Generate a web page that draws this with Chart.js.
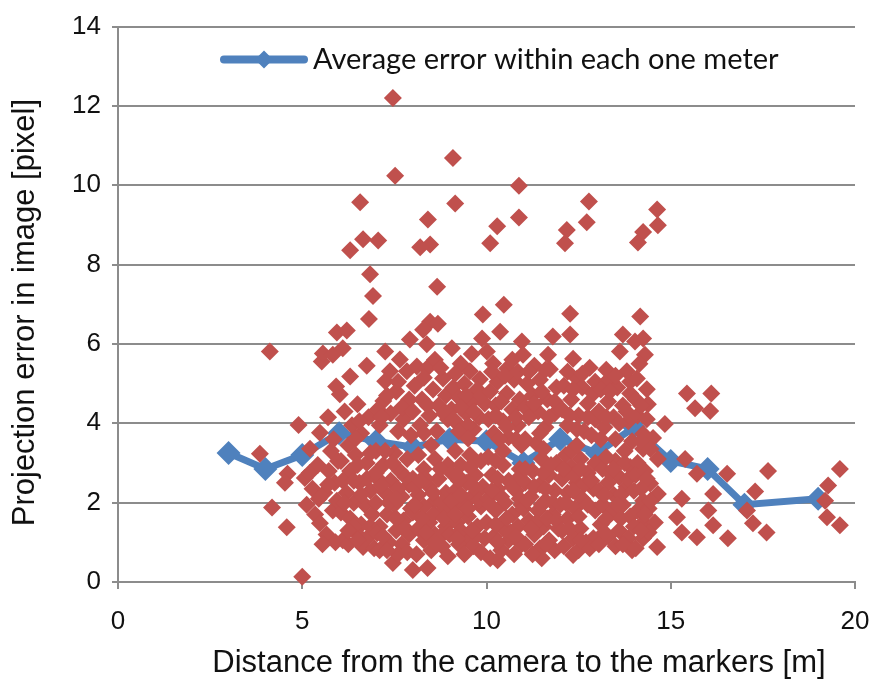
<!DOCTYPE html>
<html lang="en">
  <head>
    <meta charset="UTF-8" />
    <title>Projection error vs. distance</title>
    <script src="https://cdn.jsdelivr.net/npm/chart.js@4.4.1/dist/chart.umd.min.js"></script>
    <style>
      body { margin: 0; background: #fff; }
    </style>
  </head>
  <body>
    <canvas id="chart" width="879" height="683"></canvas>
    <script>
      // Mean projection error for each one-metre distance bin
      const binDistance = [3, 4, 5, 6, 7, 8, 9, 10, 11, 12, 13, 14, 15, 16, 17, 19];
      const binMeanError = [3.25, 2.85, 3.2, 3.75, 3.55, 3.4, 3.6, 3.55, 3.0, 3.6, 3.25, 3.9, 3.05, 2.85, 1.95, 2.1];

      // Individual marker measurements [distance m, error px], grouped by metre
      const samplesUnder5 = [
        [3.85, 3.23], [4.12, 5.81], [4.18, 1.88], [4.58, 1.38], [4.6, 2.73], [4.53, 2.5], [4.9, 3.96]
      ];
      const samples5 = [
        [5.0, 0.13], [5.07, 2.62], [5.12, 1.95], [5.21, 3.36], [5.28, 2.35], [5.35, 1.7], [5.42, 2.95],
        [5.48, 3.76], [5.48, 1.48], [5.53, 5.56], [5.56, 5.76], [5.6, 2.25], [5.66, 1.2], [5.72, 2.8],
        [5.78, 3.3], [5.83, 5.73], [5.83, 1.8], [5.88, 2.5], [5.92, 4.93], [5.94, 6.29], [5.94, 2.05],
        [5.9, 1.0], [5.97, 3.05], [5.7, 4.15], [5.55, 0.95], [5.2, 2.75], [5.45, 2.1], [5.7, 2.45],
        [5.85, 3.6]
      ];
      const samples6 = [
        [6.57, 9.57], [6.65, 8.64], [6.3, 8.36], [6.84, 7.76], [6.92, 7.21], [6.81, 6.63], [6.21, 6.34],
        [6.1, 5.89], [6.3, 5.18], [6.75, 5.45], [6.02, 4.73], [6.5, 4.48], [6.15, 4.3], [6.8, 4.15],
        [6.35, 3.95], [6.6, 3.75], [6.25, 3.45], [6.45, 3.2], [6.05, 3.05],
        [6.75, 3.0], [6.3, 2.8], [6.95, 2.7], [6.1, 2.55], [6.55, 2.5], [6.85, 2.3], [6.2, 2.25],
        [6.4, 2.0], [6.7, 1.95], [6.05, 1.75], [6.9, 1.7], [6.3, 1.6], [6.6, 1.45], [6.1, 1.05],
        [6.45, 1.25], [6.8, 1.15], [6.65, 0.88], [6.25, 0.95], [6.95, 0.85], [6.5, 2.95], [6.15, 2.0],
        [6.75, 2.6], [6.4, 1.4], [6.55, 4.05], [6.85, 3.25], [6.4, 2.55], [6.6, 2.2],
        [6.25, 1.3], [6.85, 1.4], [6.5, 1.05], [6.45, 3.62]
      ];
      const samples7 = [
        [7.46, 12.2], [7.52, 10.24], [7.06, 8.61], [7.25, 5.81], [7.92, 6.11], [7.65, 5.61], [7.38, 5.31],
        [7.84, 5.31], [7.25, 5.06], [7.2, 4.56], [7.55, 4.8], [7.9, 4.6], [7.05, 4.35], [7.4, 4.25],
        [7.75, 4.1], [7.1, 3.95], [7.6, 3.8], [7.95, 3.7], [7.0, 3.3], [7.5, 3.25],
        [7.85, 3.1], [7.2, 2.95], [7.65, 2.8], [7.05, 2.6], [7.4, 2.55], [7.9, 2.45], [7.25, 2.25],
        [7.7, 2.15], [7.0, 2.0], [7.5, 1.95], [7.95, 1.85], [7.3, 1.7], [7.75, 1.55], [7.1, 1.4],
        [7.55, 1.3], [7.9, 1.2], [7.03, 1.23], [7.35, 1.0], [7.7, 0.95], [7.1, 0.8], [7.46, 0.48],
        [7.6, 0.7], [7.85, 0.75], [7.45, 3.0], [7.8, 2.65], [7.15, 2.45], [7.6, 2.35], [7.35, 2.0],
        [7.55, 1.6], [7.2, 1.15], [7.3, 4.7], [7.7, 4.4], [7.15, 4.15],
        [7.25, 3.3], [7.0, 2.75], [7.55, 2.1], [7.8, 1.35], [7.3, 0.8], [7.6, 5.05]
      ];
      const samples8 = [
        [8.41, 9.14], [8.47, 8.51], [8.2, 8.44], [8.66, 7.44], [8.47, 6.56], [8.68, 6.51], [8.28, 6.36],
        [8.38, 5.99], [8.11, 5.43], [8.38, 5.38], [8.82, 5.13], [8.6, 5.6], [8.05, 4.95], [8.55, 4.85],
        [8.9, 4.7], [8.25, 4.6], [8.7, 4.45], [8.0, 4.3], [8.45, 4.2], [8.95, 4.1], [8.2, 3.95],
        [8.65, 3.8], [8.15, 3.2], [8.6, 3.1], [8.95, 2.95],
        [8.3, 2.85], [8.0, 2.6], [8.7, 2.6], [8.45, 2.4], [8.15, 2.2], [8.9, 2.25], [8.6, 2.05],
        [8.3, 1.9], [8.0, 1.75], [8.75, 1.75], [8.45, 1.5], [8.15, 1.35], [8.9, 1.4], [8.6, 1.2],
        [8.3, 1.05], [8.0, 0.3], [8.4, 0.35], [8.8, 0.9], [8.5, 0.8], [8.1, 0.7], [8.95, 0.65],
        [8.35, 2.6], [8.8, 2.0], [8.05, 2.4], [8.55, 1.7], [8.25, 1.6], [8.75, 1.15], [8.3, 5.15],
        [8.75, 5.4], [8.4, 4.45], [8.85, 4.25], [8.3, 3.75], [8.75, 2.85], [8.2, 2.55],
        [8.55, 2.25], [8.05, 1.95], [8.85, 1.6], [8.35, 1.25], [8.65, 0.95], [8.5, 3.45]
      ];
      const samples9 = [
        [9.09, 10.69], [9.15, 9.54], [9.9, 6.74], [9.06, 5.89], [9.88, 6.14], [9.55, 5.31], [9.82, 5.11],
        [9.3, 5.5], [9.6, 5.75], [9.1, 4.9], [9.4, 5.0], [9.75, 4.85], [9.25, 4.65], [9.6, 4.55],
        [9.95, 4.5], [9.05, 4.35], [9.45, 4.25], [9.8, 4.15], [9.2, 4.0], [9.65, 3.85],
        [9.15, 3.3], [9.55, 3.2], [9.85, 3.05], [9.3, 2.95], [9.05, 2.75],
        [9.7, 2.7], [9.45, 2.5], [9.9, 2.4], [9.15, 2.3], [9.6, 2.15], [9.35, 1.95], [9.05, 1.85],
        [9.85, 1.9], [9.5, 1.65], [9.2, 1.5], [9.75, 1.4], [9.0, 1.2], [9.45, 1.15], [9.95, 1.1],
        [9.25, 0.95], [9.65, 0.9], [9.4, 0.7], [9.85, 0.75], [9.55, 2.9], [9.25, 2.55], [9.75, 2.3],
        [9.05, 2.05], [9.5, 1.85], [9.3, 1.3], [9.7, 1.15], [9.15, 5.25], [9.45, 4.7], [9.85, 4.7],
        [9.3, 4.4], [9.65, 4.3], [9.1, 4.1], [9.5, 3.95], [9.25, 3.8],
        [9.2, 2.7], [9.6, 2.45], [9.3, 2.2], [9.8, 2.05], [9.15, 1.7], [9.6, 1.3], [9.2, 1.1],
        [9.5, 3.62]
      ];
      const samples10 = [
        [10.88, 9.99], [10.88, 9.19], [10.29, 8.97], [10.1, 8.54], [10.47, 6.99], [10.37, 6.31],
        [10.96, 6.06], [10.01, 5.81], [10.99, 5.73], [10.18, 5.51], [10.56, 5.38], [10.7, 5.6],
        [10.3, 5.05], [10.75, 5.1], [10.1, 4.8], [10.55, 4.75], [10.9, 4.6], [10.25, 4.45], [10.7, 4.35],
        [10.05, 4.1], [10.45, 4.05], [10.85, 3.95], [10.2, 3.75], [10.6, 3.65], [10.95, 3.45],
        [10.05, 3.15], [10.45, 2.95], [10.9, 2.85], [10.15, 2.7],
        [10.6, 2.55], [10.3, 2.35], [10.8, 2.3], [10.05, 2.1], [10.5, 2.0], [10.95, 1.95], [10.25, 1.8],
        [10.7, 1.7], [10.0, 1.5], [10.45, 1.35], [10.85, 1.4], [10.2, 1.15], [10.6, 1.05], [10.95, 0.95],
        [10.3, 0.55], [10.4, 0.8], [10.75, 0.7], [10.1, 0.6], [10.25, 3.05], [10.85, 2.6], [10.4, 2.15],
        [10.1, 1.95], [10.65, 1.25], [10.25, 1.45], [10.15, 5.3], [10.5, 5.2], [10.85, 5.3],
        [10.4, 4.55], [10.8, 4.15], [10.25, 4.2], [10.55, 3.9], [10.35, 3.6], [10.8, 3.6],
        [10.3, 2.6], [10.7, 2.4], [10.15, 2.3], [10.9, 2.1], [10.55, 1.6], [10.3, 1.0], [10.8, 1.15],
        [10.45, 3.3]
      ];
      const samples11 = [
        [11.8, 6.19], [11.67, 5.73], [11.72, 5.36], [11.3, 5.45], [11.1, 5.0], [11.45, 5.1], [11.9, 4.9],
        [11.25, 4.7], [11.65, 4.6], [11.05, 4.4], [11.4, 4.3], [11.85, 4.25], [11.15, 4.15], [11.6, 3.9],
        [11.35, 3.5], [11.5, 3.1], [11.9, 3.0], [11.25, 2.8],
        [11.7, 2.7], [11.05, 2.5], [11.45, 2.45], [11.85, 2.3], [11.2, 2.15], [11.6, 2.05], [11.0, 1.85],
        [11.4, 1.8], [11.8, 1.7], [11.15, 1.55], [11.55, 1.4], [11.95, 1.35], [11.3, 1.2], [11.7, 1.05],
        [11.05, 0.95], [11.45, 0.85], [11.5, 0.6], [11.85, 0.8], [11.25, 0.7], [11.55, 2.75], [11.3, 2.4],
        [11.8, 2.0], [11.35, 1.5], [11.65, 1.6], [11.15, 5.3], [11.6, 5.35], [11.5, 4.8], [11.85, 4.55],
        [11.3, 4.5], [11.7, 4.15], [11.45, 3.75], [11.05, 3.6], [11.75, 2.95],
        [11.05, 2.85], [11.6, 2.35], [11.1, 2.05], [11.5, 1.95], [11.9, 1.55], [11.2, 1.35], [11.6, 0.95],
        [11.55, 3.35]
      ];
      const samples12 = [
        [12.78, 9.59], [12.72, 9.07], [12.18, 8.87], [12.13, 8.54], [12.27, 6.76], [12.27, 6.24],
        [12.35, 5.63], [12.46, 5.13], [12.8, 5.4], [12.1, 4.95], [12.6, 4.9], [12.9, 4.75], [12.3, 4.6],
        [12.75, 4.5], [12.05, 4.35], [12.5, 4.2], [12.95, 4.1], [12.2, 3.95], [12.65, 3.8],
        [12.15, 3.2], [12.55, 3.1], [12.95, 3.0], [12.3, 2.9], [12.75, 2.75],
        [12.05, 2.6], [12.45, 2.5], [12.9, 2.35], [12.2, 2.25], [12.6, 2.1], [12.0, 1.95], [12.4, 1.85],
        [12.95, 1.8], [12.2, 1.6], [12.55, 1.35], [12.05, 1.3], [12.35, 1.1], [12.7, 1.0], [12.1, 0.9],
        [12.35, 0.68], [12.5, 0.8], [12.9, 1.1], [12.35, 2.7], [12.65, 2.45], [12.15, 2.0], [12.5, 1.65],
        [12.2, 5.3], [12.6, 5.25], [12.95, 5.05], [12.35, 4.85], [12.75, 4.15], [12.25, 4.2],
        [12.45, 3.85], [12.85, 3.7], [12.3, 3.3], [12.1, 2.85], [12.55, 2.85], [12.85, 2.55],
        [12.35, 2.3], [12.75, 1.95], [12.25, 1.35], [12.8, 0.85], [12.55, 1.05], [12.45, 3.45]
      ];
      const samples13 = [
        [13.7, 6.24], [13.62, 5.81], [13.81, 5.31], [13.27, 5.06], [13.1, 4.85], [13.55, 4.9], [13.9, 4.75],
        [13.3, 4.55], [13.7, 4.45], [13.05, 4.3], [13.45, 4.15], [13.85, 4.05], [13.2, 3.9],
        [13.95, 3.55], [13.75, 3.3], [13.5, 3.05], [13.15, 2.85], [13.9, 2.9],
        [13.6, 2.65], [13.3, 2.5], [13.05, 2.3], [13.8, 2.4], [13.45, 2.2], [13.15, 1.95], [13.7, 1.95],
        [13.4, 1.75], [13.9, 1.65], [13.1, 1.45], [13.6, 1.3], [13.3, 1.15], [13.85, 1.1], [13.05, 0.95],
        [13.5, 0.9], [13.95, 0.8], [13.35, 2.75], [13.65, 2.2], [13.25, 1.6], [13.25, 5.35], [13.5, 5.2],
        [13.9, 5.05], [13.35, 4.8], [13.8, 4.3], [13.25, 4.15], [13.6, 4.0], [13.1, 3.6],
        [13.25, 3.15], [13.75, 3.0], [13.45, 2.85], [13.85, 2.6], [13.2, 2.2], [13.55, 1.95], [13.65, 1.6],
        [13.2, 1.25], [13.7, 0.95], [13.5, 3.6]
      ];
      const samples14 = [
        [14.11, 8.56], [14.25, 8.82], [14.63, 9.39], [14.65, 8.99], [14.17, 6.69], [14.25, 6.14],
        [14.3, 5.73], [14.03, 6.06], [14.08, 5.13], [14.35, 4.86], [14.38, 4.48], [14.25, 3.73],
        [14.52, 3.63], [14.84, 3.98], [14.25, 3.36], [14.65, 3.1], [14.44, 2.48], [14.25, 2.05],
        [14.65, 2.22], [14.25, 1.5], [14.57, 1.5], [14.25, 1.1], [14.63, 0.88], [14.05, 4.6], [14.1, 4.2],
        [14.1, 3.0], [14.05, 2.7], [14.3, 2.8], [14.0, 2.3], [14.1, 1.8], [14.4, 1.85],
        [14.0, 1.4], [14.05, 0.85], [14.4, 1.25], [14.15, 5.5], [14.2, 4.45], [14.35, 4.1], [14.2, 3.55],
        [14.45, 3.35], [14.35, 2.6], [14.2, 2.35], [14.45, 2.05], [14.3, 1.7], [14.2, 1.3]
      ];
      const samplesOver15 = [
        [15.44, 4.75], [15.66, 4.38], [15.39, 3.1], [15.71, 2.73], [15.3, 2.1], [15.17, 1.63], [15.3, 1.25],
        [15.71, 1.13], [16.1, 4.75], [16.07, 4.31], [16.53, 2.73], [16.15, 2.22], [16.02, 1.8], [16.15, 1.43],
        [16.55, 1.1], [17.64, 2.8], [17.29, 2.28], [17.07, 1.8], [17.23, 1.48], [17.6, 1.25], [19.59, 2.85],
        [19.27, 2.43], [19.19, 2.05], [19.24, 1.63], [19.59, 1.43]
      ];

      const xTicks = [0, 5, 10, 15, 20];
      const yTicks = [0, 2, 4, 6, 8, 10, 12, 14];
      const legendText = "Average error within each one meter";
      const xTitle = "Distance from the camera to the markers [m]";
      const yTitle = "Projection error in image [pixel]";

      const samples = [
        ...samplesUnder5, ...samples5, ...samples6, ...samples7, ...samples8, ...samples9,
        ...samples10, ...samples11, ...samples12, ...samples13, ...samples14, ...samplesOver15
      ];

      const blue = "#4F81BD";
      const red = "#C0504D";
      const grey = "#8c8c8c";
      const ink = "#111";
      const tickFont = { family: "'Liberation Sans', Arial, sans-serif", size: 26 };

      // legend inside the plot near the top, axis titles placed by hand
      const decorations = {
        id: "decorations",
        afterDraw(c) {
          const { ctx, chartArea } = c;
          const y = chartArea.top + 33;
          const x0 = chartArea.left + 106;
          ctx.save();
          ctx.strokeStyle = blue;
          ctx.lineWidth = 8;
          ctx.lineCap = "round";
          ctx.beginPath();
          ctx.moveTo(x0, y);
          ctx.lineTo(x0 + 80, y);
          ctx.stroke();
          ctx.fillStyle = blue;
          ctx.beginPath();
          ctx.moveTo(x0 + 40, y - 9);
          ctx.lineTo(x0 + 49, y);
          ctx.lineTo(x0 + 40, y + 9);
          ctx.lineTo(x0 + 31, y);
          ctx.closePath();
          ctx.fill();

          ctx.fillStyle = ink;
          ctx.font = "29px Lato, 'Open Sans', sans-serif";
          ctx.textBaseline = "middle";
          ctx.fillText(legendText, x0 + 89, y);

          ctx.font = "31px 'Liberation Sans', Arial, sans-serif";
          ctx.textAlign = "center";
          ctx.fillText(xTitle, chartArea.left + 401, chartArea.bottom + 81);
          ctx.translate(25, chartArea.top + 286);
          ctx.rotate(-Math.PI / 2);
          ctx.fillText(yTitle, 0, 0);
          ctx.restore();
        }
      };

      new Chart(document.getElementById("chart"), {
        type: "scatter",
        data: {
          datasets: [
            {
              label: "Samples",
              data: samples.map(([x, y]) => ({ x, y })),
              pointStyle: "rectRot",
              pointRadius: 9,
              backgroundColor: red,
              borderWidth: 0,
              clip: false
            },
            {
              label: legendText,
              data: binDistance.map((x, i) => ({ x, y: binMeanError[i] })),
              showLine: true,
              borderColor: blue,
              borderWidth: 7,
              pointStyle: "rectRot",
              pointRadius: 12,
              pointBackgroundColor: blue,
              pointBorderWidth: 0,
              clip: false
            }
          ]
        },
        options: {
          responsive: false,
          animation: false,
          devicePixelRatio: 1,
          layout: { padding: { top: 23, right: 24, left: 0, bottom: 0 } },
          plugins: { legend: { display: false }, tooltip: { enabled: false } },
          scales: {
            x: {
              type: "linear",
              min: 0,
              max: 20,
              afterBuildTicks: (s) => { s.ticks = xTicks.map((v) => ({ value: v })); },
              afterFit: (s) => { s.height = 101; s.paddingLeft = 0; s.paddingRight = 0; },
              grid: { drawOnChartArea: false, tickLength: 7, color: grey, lineWidth: 2 },
              border: { color: grey, width: 2 },
              ticks: { font: tickFont, color: ink, padding: 17, maxRotation: 0 }
            },
            y: {
              min: 0,
              max: 14,
              afterBuildTicks: (s) => { s.ticks = yTicks.map((v) => ({ value: v })); },
              afterFit: (s) => { s.width = 118; },
              grid: { color: grey, lineWidth: 2, tickLength: 6 },
              border: { color: grey, width: 2 },
              ticks: { font: tickFont, color: ink, padding: 11 }
            }
          }
        },
        plugins: [decorations]
      });
    </script>
  </body>
</html>
